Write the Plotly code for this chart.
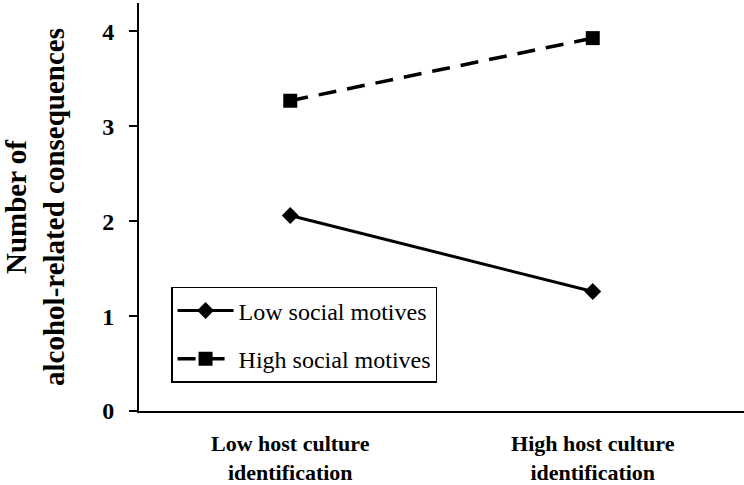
import plotly.graph_objects as go

categories = ["Low host culture<br>identification", "High host culture<br>identification"]
low_social = [2.06, 1.26]
high_social = [3.27, 3.93]
series_names = ["Low social motives", "High social motives"]
y_ticks = [0, 1, 2, 3, 4]

x_idx = list(range(len(categories)))

fig = go.Figure()
fig.add_trace(go.Scatter(
    x=x_idx, y=low_social, name=series_names[0], mode="lines+markers",
    legendgroup="a",
    line=dict(color="black", width=3),
    marker=dict(symbol="diamond", size=13, color="black"),
))
fig.add_trace(go.Scatter(
    x=x_idx, y=high_social, name=series_names[1], mode="lines+markers",
    legendgroup="b",
    line=dict(color="black", width=3.5, dash="18px,11px"),
    marker=dict(symbol="square", size=14, color="black"),
))

serif = "Liberation Serif, Times New Roman, serif"
fig.update_layout(
    width=744, height=485,
    margin=dict(l=139, r=0, t=3, b=74),
    paper_bgcolor="white", plot_bgcolor="white",
    font=dict(family=serif, color="black"),
    showlegend=True,
    legend=dict(
        x=0.053, y=0.304, xanchor="left", yanchor="top",
        bordercolor="black", borderwidth=1.5, bgcolor="white",
        font=dict(family=serif, size=24, color="black"),
        traceorder="grouped", tracegroupgap=14, itemwidth=56,
    ),
    xaxis=dict(
        range=[-0.5, 1.5], tickvals=x_idx, ticktext=categories,
        showline=True, linecolor="black", linewidth=2,
        ticks="", showgrid=False, zeroline=False, ticklabelstandoff=12,
        tickfont=dict(family=serif, size=22, color="black", weight="bold"),
    ),
    yaxis=dict(
        range=[0, 4.3], tickvals=y_ticks,
        showline=True, linecolor="black", linewidth=2,
        ticks="outside", ticklen=8, tickwidth=2, tickcolor="black",
        showgrid=False, zeroline=False, ticklabelstandoff=10,
        tickfont=dict(family=serif, size=24, color="black", weight="bold"),
        title=dict(text="<b>Number of<br>alcohol-related consequences</b>",
                   font=dict(family=serif, size=29, color="black"), standoff=40),
    ),
)

fig.write_html("out.html", post_script="document.body.style.margin='0';",
               config={"displayModeBar": False})
